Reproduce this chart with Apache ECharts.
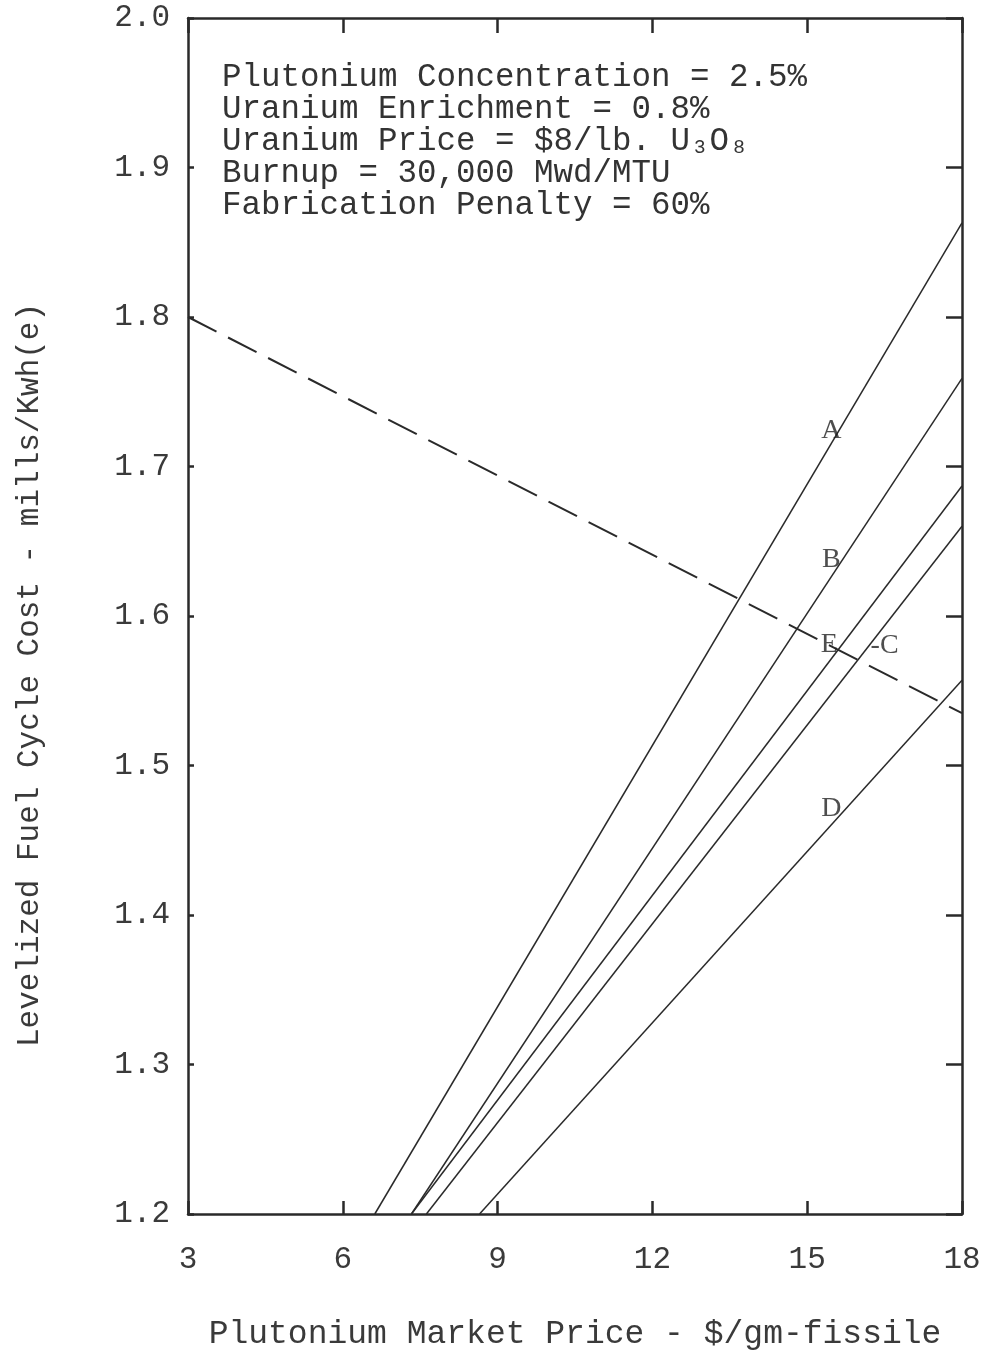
<!DOCTYPE html>
<html>
<head>
<meta charset="utf-8">
<script src="https://cdn.jsdelivr.net/npm/echarts@6/dist/echarts.min.js"></script>
<style>html,body{margin:0;padding:0;background:#fff}#c{width:984px;height:1356px}</style>
</head>
<body>
<div id="c"></div>
<script>
var xTicks = [3, 6, 9, 12, 15, 18];
var yTicks = [1.2, 1.3, 1.4, 1.5, 1.6, 1.7, 1.8, 1.9, 2.0];
var lineA = [[6.62, 1.2], [18, 1.863]];
var lineB = [[7.33, 1.2], [18, 1.759]];
var lineE = [[7.33, 1.2], [18, 1.687]];
var lineC = [[7.62, 1.2], [18, 1.660]];
var lineD = [[8.65, 1.2], [18, 1.557]];
var dashed = [[3, 1.800], [18, 1.535]];
var curveLabels = [
  {name: 'A', coord: [15.47, 1.724]},
  {name: 'B', coord: [15.47, 1.638]},
  {name: 'E', coord: [15.43, 1.581]},
  {name: '-C', coord: [16.5, 1.580]},
  {name: 'D', coord: [15.47, 1.471]}
];
var notes = [
  'Plutonium Concentration = 2.5%',
  'Uranium Enrichment = 0.8%',
  'Uranium Price = $8/lb. U\u2083O\u2088',
  'Burnup = 30,000 Mwd/MTU',
  'Fabrication Penalty = 60%'
];
var xTitle = 'Plutonium Market Price - $/gm-fissile';
var yTitle = 'Levelized Fuel Cycle Cost - mills/Kwh(e)';

var mono = '"Liberation Mono", "DejaVu Sans Mono", monospace';
var ink = '#2a2a2a';
var chart = echarts.init(document.getElementById('c'));

function solid(data) {
  return {type: 'line', data: data, symbol: 'none', silent: true,
    lineStyle: {color: ink, width: 1.5}, xAxisIndex: 0, yAxisIndex: 0, z: 3};
}
var axisCommon = {
  type: 'value', min: 3, max: 18, interval: 3,
  axisLine: {show: true, lineStyle: {color: ink, width: 2.5}},
  splitLine: {show: false}
};
var yCommon = {
  type: 'value', min: 1.2, max: 2.0, interval: 0.1,
  axisLine: {show: true, lineStyle: {color: ink, width: 2.5}},
  splitLine: {show: false}
};
chart.setOption({
  animation: false,
  backgroundColor: '#fff',
  grid: {left: 188, right: 22, top: 18, bottom: 138, containLabel: false},
  xAxis: [
    Object.assign({}, axisCommon, {
      position: 'bottom',
      axisTick: {show: true, inside: true, length: 13, lineStyle: {color: ink, width: 2.5}},
      axisLabel: {show: true, margin: 30, fontFamily: mono, fontSize: 31, color: '#3a3a3a',
        customValues: xTicks},
      name: xTitle, nameLocation: 'middle', nameGap: 104,
      nameTextStyle: {fontFamily: mono, fontSize: 33, color: '#3a3a3a'}
    }),
    Object.assign({}, axisCommon, {
      position: 'top',
      axisTick: {show: true, inside: true, length: 15, lineStyle: {color: ink, width: 2.5}},
      axisLabel: {show: false}
    })
  ],
  yAxis: [
    Object.assign({}, yCommon, {
      position: 'left',
      axisTick: {show: true, inside: true, length: 6, lineStyle: {color: ink, width: 2.5}},
      axisLabel: {show: true, margin: 18, fontFamily: mono, fontSize: 31, color: '#3a3a3a',
        formatter: function (v) { return v.toFixed(1); }, customValues: yTicks}
    }),
    Object.assign({}, yCommon, {
      position: 'right',
      axisTick: {show: true, inside: true, length: 16, lineStyle: {color: ink, width: 2.5}},
      axisLabel: {show: false}
    })
  ],
  series: [
    solid(lineA), solid(lineB), solid(lineE), solid(lineC), solid(lineD),
    {type: 'line', data: dashed, symbol: 'none', silent: true, z: 3,
      lineStyle: {color: ink, width: 2, type: [32, 13]}},
    {type: 'scatter', symbolSize: 0, silent: true, z: 4,
      data: curveLabels.map(function (d) { return {name: d.name, value: d.coord}; }),
      label: {show: true, position: 'inside', formatter: '{b}',
        fontFamily: '"Liberation Serif", "DejaVu Serif", serif', fontSize: 28, color: '#222'}}
  ],
  graphic: [
    {type: 'text', left: 222, top: 61, z: 10,
      style: {text: notes.join('\n'), fontFamily: mono, fontSize: 32.5, lineHeight: 32, fill: '#333'}},
    {type: 'text', x: 30, y: 675, rotation: Math.PI / 2, z: 10,
      style: {text: yTitle, fontFamily: mono, fontSize: 31, fill: '#3a3a3a',
        align: 'center', verticalAlign: 'middle'}}
  ]
});
</script>
</body>
</html>
